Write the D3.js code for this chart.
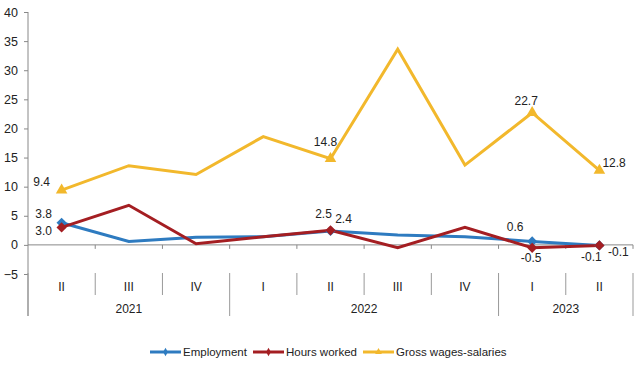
<!DOCTYPE html>
<html><head><meta charset="utf-8">
<script src="https://cdn.jsdelivr.net/npm/d3@7"></script>
<style>body{margin:0;background:#fff}svg{display:block;font-family:"Liberation Sans",Arial,sans-serif}</style>
</head><body><svg id="c" width="643" height="365"></svg>
<script>
const quarters = ["II","III","IV","I","II","III","IV","I","II"];
const years = [{label:"2021", from:0, to:3},{label:"2022", from:3, to:7},{label:"2023", from:7, to:9}];
const employment = [3.8, 0.6, 1.3, 1.4, 2.4, 1.7, 1.4, 0.6, -0.1];
const hoursWorked = [3.0, 6.8, 0.2, 1.4, 2.5, -0.5, 3.0, -0.5, -0.1];
const grossWages = [9.4, 13.6, 12.1, 18.6, 14.8, 33.6, 13.7, 22.7, 12.8];
const yTicks = [-5, 0, 5, 10, 15, 20, 25, 30, 35, 40];
const markerIdx = [0, 4, 7, 8];
const seriesNames = ["Employment","Hours worked","Gross wages-salaries"];
const colors = ["#2E7BC0","#A41E22","#F2B82C"];

const svg = d3.select("#c");
const x0 = 28, x1 = 633;
const y = d3.scaleLinear().domain([-5,40]).range([274,12]);
const xb = d3.scaleLinear().domain([0,9]).range([x0,x1]);
const xc = i => xb(i+0.5);

// y axis
const ya = svg.append("g").attr("transform",`translate(${x0},0)`)
  .call(d3.axisLeft(y).tickValues(yTicks).tickSize(4).tickFormat(d3.format("d")));
ya.select(".domain").remove();
ya.selectAll("line").attr("stroke","#888");
ya.selectAll("text").attr("font-size",12.5).attr("fill","#222").attr("x",-10).attr("font-family","Liberation Sans, Arial, sans-serif");
svg.append("line").attr("x1",x0).attr("x2",x0).attr("y1",y(40)).attr("y2",316).attr("stroke","#888");

// zero line with ticks
svg.append("line").attr("x1",x0).attr("x2",x1).attr("y1",y(0)).attr("y2",y(0)).attr("stroke","#888");
d3.range(1,10).forEach(i=>{
  svg.append("line").attr("x1",xb(i)).attr("x2",xb(i)).attr("y1",y(0)).attr("y2",y(0)+4).attr("stroke","#888");
});
// category separators
const yearBounds = new Set([0,3,7,9]);
d3.range(0,10).forEach(i=>{
  svg.append("line").attr("x1",xb(i)).attr("x2",xb(i)).attr("y1",273)
    .attr("y2", yearBounds.has(i)?316:295).attr("stroke","#999");
});
svg.selectAll(".q").data(quarters).join("text").attr("x",(d,i)=>xc(i)).attr("y",291)
  .attr("text-anchor","middle").attr("font-size",12).attr("fill","#222").text(d=>d);
svg.selectAll(".yr").data(years).join("text").attr("x",d=>(xb(d.from)+xb(d.to))/2).attr("y",313)
  .attr("text-anchor","middle").attr("font-size",12).attr("fill","#222").text(d=>d.label);

// lines
const line = d3.line().x((d,i)=>xc(i)).y(d=>y(d));
const data = [employment, hoursWorked, grossWages];
data.forEach((s,k)=>{
  svg.append("path").attr("d",line(s)).attr("fill","none").attr("stroke",colors[k])
    .attr("stroke-width",3).attr("stroke-linejoin","miter");
});
const diamond = d3.symbol().type(d3.symbolSquare).size(52);
const tri = d3.symbol().type(d3.symbolTriangle).size(58);
data.forEach((s,k)=>{
  markerIdx.forEach(i=>{
    svg.append("path").attr("d", k===2?tri():diamond())
      .attr("transform",`translate(${xc(i)},${y(s[i])})` + (k===2?"":" rotate(45)")).attr("fill",colors[k]);
  });
});

// data labels
const labels = [
  {s:2,i:0,dx:-20,dy:-4},
  {s:0,i:0,dx:-18,dy:-5},
  {s:1,i:0,dx:-18,dy:8},
  {s:2,i:4,dx:-5,dy:-13},
  {s:1,i:4,dx:-7,dy:-12},
  {s:0,i:4,dx:13,dy:-8},
  {s:2,i:7,dx:-6,dy:-8},
  {s:0,i:7,dx:-17,dy:-10},
  {s:1,i:7,dx:-1,dy:14},
  {s:1,i:8,dx:-8,dy:16},
  {s:0,i:8,dx:19,dy:11}
];
svg.selectAll(".lab").data(labels).join("text")
  .attr("x",d=>xc(d.i)+d.dx).attr("y",d=>y(data[d.s][d.i])+d.dy)
  .attr("text-anchor","middle").attr("font-size",12).attr("fill","#222")
  .text(d=>d3.format(".1f")(data[d.s][d.i]).replace("−","-"));
svg.append("text").attr("x",xc(8)+3).attr("y",y(grossWages[8])-3).attr("font-size",12).attr("fill","#222")
  .text(d3.format(".1f")(grossWages[8]));

// legend
const lg = [{x:150},{x:253},{x:363}];
seriesNames.forEach((n,k)=>{
  const g = svg.append("g").attr("transform",`translate(${lg[k].x},352)`);
  g.append("line").attr("x1",0).attr("x2",31).attr("stroke",colors[k]).attr("stroke-width",3);
  g.append("path").attr("d", d3.symbol().type(k===2?d3.symbolTriangle:d3.symbolDiamond).size(20)())
    .attr("transform","translate(15.5,0)").attr("fill",colors[k]);
  g.append("text").attr("x",33).attr("y",4).attr("font-size",11.5).attr("fill","#222").text(n);
});
</script></body></html>
